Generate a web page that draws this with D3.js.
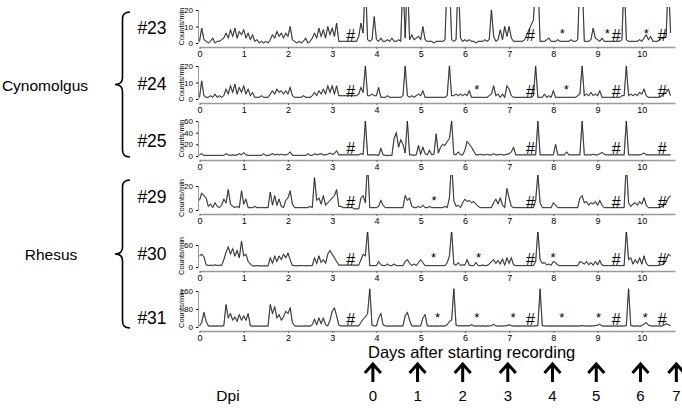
<!DOCTYPE html>
<html>
<head>
<meta charset="utf-8">
<script src="https://cdn.jsdelivr.net/npm/d3@7"></script>
<style>
  body { margin: 0; background: #fff; }
  svg { font-family: "Liberation Sans", Arial, sans-serif; }
</style>
</head>
<body>
<svg id="chart" width="682" height="410"></svg>
<script>
// activity counts, one value every 0.05 day from day 0
let step = 0.05

let m23 = [
  1, 9, 2, 1, 0, 1, 3, 0, 1, 1, 2, 3, 6, 3, 8, 4, 9, 3, 7, 5,
  8, 3, 6, 2, 5, 1, 2, 0, 1, 0, 1, 0, 2, 5, 3, 7, 4, 6, 3, 6,
  4, 10, 2, 1, 0, 1, 0, 1, 3, 0, 1, 3, 6, 3, 9, 4, 8, 3, 10, 5,
  9, 4, 12, 1, 1, 1, 1, 1, 1, 1, 1, 1, 4, 12, 6, 40, 2, 1, 2, 16,
  2, 1, 3, 1, 1, 2, 1, 3, 1, 1, 2, 1, 40, 3, 40, 2, 5, 2, 3, 4,
  2, 10, 2, 1, 1, 1, 0, 1, 1, 1, 1, 2, 40, 40, 2, 1, 2, 40, 3, 1,
  2, 1, 2, 1, 1, 0, 1, 1, 1, 2, 1, 2, 20, 4, 1, 2, 8, 2, 10, 4,
  10, 3, 1, 1, 1, 1, 1, 2, 5, 8, 11, 14, 40, 40, 1, 1, 1, 2, 3, 1,
  1, 1, 2, 1, 1, 1, 1, 1, 2, 1, 1, 2, 40, 40, 1, 1, 1, 2, 9, 3,
  2, 1, 3, 1, 1, 1, 1, 1, 1, 1, 1, 2, 40, 2, 1, 1, 1, 1, 1, 2,
  1, 3, 5, 2, 4, 1, 1, 1, 2, 3, 3, 4, 40, 6
]
let m24 = [
  1, 11, 2, 1, 1, 2, 1, 3, 1, 2, 1, 2, 6, 3, 8, 4, 9, 3, 7, 4,
  8, 3, 6, 2, 4, 1, 1, 1, 2, 1, 1, 1, 3, 5, 3, 6, 4, 5, 3, 5,
  3, 7, 2, 1, 1, 1, 1, 2, 1, 1, 1, 2, 4, 2, 5, 3, 6, 3, 8, 4,
  8, 3, 8, 2, 2, 2, 2, 2, 2, 2, 2, 2, 3, 7, 4, 20, 2, 2, 3, 2,
  2, 7, 1, 1, 1, 2, 1, 1, 1, 1, 1, 1, 2, 20, 2, 1, 2, 1, 2, 3,
  2, 5, 1, 1, 1, 1, 1, 1, 1, 1, 1, 1, 2, 20, 2, 2, 3, 2, 3, 2,
  3, 2, 5, 1, 1, 1, 1, 1, 1, 1, 1, 2, 3, 8, 2, 3, 1, 3, 1, 8,
  6, 2, 1, 1, 1, 1, 1, 1, 1, 1, 1, 2, 20, 1, 1, 1, 3, 1, 2, 1,
  5, 1, 1, 1, 1, 1, 1, 1, 1, 1, 1, 2, 3, 20, 2, 3, 2, 4, 2, 3,
  2, 5, 1, 1, 1, 1, 1, 1, 1, 1, 1, 2, 2, 20, 2, 3, 2, 3, 2, 4,
  3, 6, 2, 1, 1, 1, 1, 1, 1, 2, 3, 4, 6, 2
]
let m25 = [
  2, 4, 1, 1, 1, 1, 1, 1, 1, 1, 1, 1, 4, 2, 1, 2, 1, 2, 4, 2,
  6, 2, 1, 1, 1, 1, 1, 1, 1, 4, 1, 1, 2, 4, 2, 3, 2, 3, 2, 2,
  3, 7, 1, 1, 1, 1, 1, 1, 1, 4, 1, 1, 4, 2, 3, 4, 2, 2, 3, 5,
  3, 4, 9, 2, 2, 2, 2, 2, 2, 2, 2, 2, 2, 4, 3, 60, 2, 2, 2, 2,
  2, 1, 13, 2, 1, 1, 1, 1, 30, 40, 15, 28, 20, 5, 60, 2, 2, 1, 2, 18,
  3, 15, 4, 2, 10, 2, 3, 38, 5, 15, 20, 18, 25, 30, 60, 3, 2, 7, 2, 2,
  10, 25, 20, 15, 8, 2, 2, 3, 2, 2, 3, 2, 2, 4, 2, 2, 3, 2, 2, 3,
  4, 7, 15, 2, 2, 2, 2, 2, 2, 2, 2, 2, 2, 60, 2, 2, 2, 2, 2, 2,
  2, 20, 2, 2, 2, 2, 7, 2, 2, 2, 2, 2, 2, 60, 2, 2, 2, 2, 3, 2,
  2, 4, 6, 3, 2, 2, 2, 2, 2, 2, 2, 2, 2, 60, 2, 2, 2, 2, 2, 2,
  3, 5, 2, 2, 2, 2, 2, 2, 2, 2, 2, 2, 2, 2
]
let m29 = [
  8, 14, 12, 10, 3, 5, 2, 6, 3, 2, 4, 9, 6, 17, 5, 3, 2, 3, 2, 16,
  5, 9, 2, 2, 2, 3, 2, 2, 2, 2, 2, 2, 15, 4, 12, 4, 9, 3, 2, 8,
  10, 16, 5, 2, 2, 2, 2, 2, 2, 2, 3, 2, 27, 8, 10, 5, 12, 4, 6, 8,
  10, 12, 17, 3, 3, 2, 2, 2, 2, 2, 1, 1, 1, 10, 12, 6, 40, 2, 2, 2,
  2, 3, 8, 4, 2, 2, 2, 2, 2, 2, 2, 2, 2, 12, 8, 10, 3, 2, 2, 3,
  2, 4, 2, 2, 3, 2, 2, 2, 2, 2, 2, 3, 2, 10, 40, 8, 3, 4, 2, 6,
  9, 7, 8, 6, 7, 5, 3, 2, 2, 2, 2, 2, 2, 6, 9, 5, 10, 4, 2, 18,
  10, 3, 2, 2, 2, 2, 2, 2, 2, 2, 2, 2, 8, 30, 6, 2, 2, 2, 2, 2,
  6, 4, 2, 2, 2, 2, 2, 2, 2, 2, 2, 2, 10, 12, 6, 7, 4, 6, 5, 7,
  4, 8, 4, 2, 2, 2, 2, 2, 2, 2, 2, 2, 2, 40, 6, 3, 5, 6, 4, 7,
  5, 10, 4, 2, 2, 2, 2, 2, 2, 3, 4, 6, 10, 12
]
let m30 = [
  30, 35, 28, 6, 4, 5, 4, 6, 4, 5, 4, 20, 40, 55, 35, 50, 30, 45, 25, 70,
  30, 35, 15, 8, 3, 3, 4, 3, 3, 3, 3, 3, 25, 10, 30, 15, 30, 20, 35, 25,
  38, 20, 4, 4, 3, 4, 4, 4, 3, 4, 4, 4, 25, 10, 30, 12, 20, 10, 35, 45,
  35, 25, 15, 5, 5, 5, 5, 5, 5, 5, 5, 5, 5, 20, 35, 30, 100, 4, 4, 4,
  4, 15, 6, 4, 4, 8, 4, 4, 8, 4, 4, 4, 4, 15, 20, 10, 4, 8, 4, 12,
  20, 12, 4, 4, 4, 4, 4, 4, 4, 4, 4, 4, 12, 30, 100, 8, 5, 12, 4, 6,
  5, 20, 5, 4, 4, 12, 4, 4, 5, 4, 4, 8, 15, 20, 10, 18, 8, 22, 5, 25,
  10, 25, 6, 4, 4, 4, 4, 4, 4, 4, 4, 4, 15, 100, 20, 10, 12, 6, 8, 5,
  15, 12, 5, 4, 4, 4, 4, 4, 4, 4, 4, 4, 15, 12, 8, 15, 6, 12, 5, 15,
  6, 18, 5, 4, 4, 4, 4, 4, 4, 4, 4, 4, 4, 100, 20, 25, 8, 20, 10, 25,
  8, 30, 10, 4, 4, 4, 4, 4, 5, 6, 8, 20, 35, 30
]
let m31 = [
  5, 20, 65, 25, 5, 4, 5, 4, 5, 4, 5, 6, 100, 40, 60, 30, 45, 25, 55, 30,
  50, 30, 60, 5, 4, 4, 4, 4, 4, 4, 4, 4, 100, 60, 90, 40, 55, 30, 45, 70,
  60, 85, 20, 5, 4, 4, 4, 4, 5, 4, 4, 10, 35, 10, 40, 15, 40, 10, 5, 30,
  70, 85, 50, 8, 5, 5, 5, 5, 5, 5, 5, 5, 5, 20, 35, 45, 60, 170, 8, 5,
  5, 40, 60, 10, 5, 4, 5, 4, 5, 4, 5, 4, 5, 50, 65, 30, 5, 4, 5, 4,
  5, 40, 55, 5, 4, 5, 4, 5, 4, 5, 4, 5, 10, 25, 30, 170, 8, 5, 6, 5,
  5, 6, 5, 10, 5, 4, 5, 4, 5, 4, 5, 5, 6, 12, 5, 4, 5, 4, 5, 6,
  10, 6, 4, 5, 4, 5, 4, 5, 4, 5, 4, 5, 5, 6, 170, 6, 5, 4, 5, 4,
  5, 4, 5, 4, 5, 4, 5, 4, 5, 4, 5, 4, 5, 6, 5, 4, 5, 4, 5, 6,
  8, 12, 5, 4, 5, 4, 5, 4, 5, 4, 5, 4, 5, 6, 170, 6, 5, 4, 5, 4,
  6, 12, 20, 8, 5, 4, 5, 4, 5, 4, 8, 15, 10, 6
]

let animals = ['#23', '#24', '#25', '#29', '#30', '#31']
let series = [m23, m24, m25, m29, m30, m31]
let yTicks = [[0, 10, 20], [0, 10, 20], [0, 20, 40, 60], [0, 20], [0, 60], [0, 80, 160]]
let yMax = [20, 20, 60, 20, 60, 160]
let hashDays = [3.42, 7.48, 9.42, 10.46]
let starDays = [[8.2, 9.22, 10.1], [6.27, 8.29], [], [5.3], [5.29, 6.31, 7.99], [5.38, 6.27, 7.09, 8.19, 9.02, 10.08]]
let dayTicks = [0, 1, 2, 3, 4, 5, 6, 7, 8, 9, 10]
let dpiLabels = [0, 1, 2, 3, 4, 5, 6, 7]
let dpiDays = [3.92, 4.93, 5.95, 6.97, 7.98, 8.97, 9.97, 10.78]

// layout (pixels)
let zeroY = [43, 99, 156, 210, 267, 327]
let topTickY = [10, 66, 121, 186, 245, 291]
let clipTop = [7, 63, 118, 175, 232, 287]
let axisY = [47, 103, 160, 214, 271, 331]
let labelY = [34, 90, 147, 203, 260, 324]

let svg = d3.select('#chart')

let x = d3.scaleLinear().domain([0, 10.75]).range([199.5, 675])

let panel = svg.selectAll('g.panel')
  .data(animals)
  .enter()
  .append('g')
  .attr('class', 'panel')

panel.each(function (name, i) {
  let g = d3.select(this)
  let y = d3.scaleLinear().domain([0, yMax[i]]).range([zeroY[i], topTickY[i]])

  g.append('clipPath')
    .attr('id', 'clip' + i)
    .append('rect')
    .attr('x', 198).attr('y', clipTop[i])
    .attr('width', 480).attr('height', axisY[i] - clipTop[i])

  let line = d3.line()
    .x((d, j) => x(j * step))
    .y(d => y(d))

  let plot = g.append('g').attr('clip-path', `url(#clip${i})`)
  plot.append('path')
    .datum(series[i])
    .attr('d', line)
    .attr('fill', 'none')
    .attr('stroke', '#999')
    .attr('stroke-width', 1.2)
  plot.append('path')
    .datum(series[i])
    .attr('d', line)
    .attr('fill', 'none')
    .attr('stroke', '#111')
    .attr('stroke-width', 0.7)

  // x axis
  let xa = g.append('g')
    .attr('transform', `translate(0, ${axisY[i]})`)
    .call(d3.axisBottom(x).tickValues(dayTicks).tickSize(2).tickSizeOuter(0).tickFormat(d3.format('d')))
  xa.select('.domain').attr('stroke', '#999').attr('stroke-width', 1.5)
  xa.selectAll('.tick line').attr('stroke', '#666')
  xa.selectAll('text').attr('font-size', 9).attr('dy', '0.6em').attr('fill', '#000')

  // y axis
  let ya = g.append('g')
    .attr('transform', 'translate(198, 0)')
    .call(d3.axisLeft(y).tickValues(yTicks[i]).tickSize(2).tickSizeOuter(0))
  ya.select('.domain').attr('stroke', '#999')
  ya.selectAll('text').attr('font-size', 8).attr('fill', '#000')

  g.append('text')
    .attr('transform', `translate(184, ${(zeroY[i] + topTickY[i]) / 2}) rotate(-90)`)
    .attr('text-anchor', 'middle')
    .attr('font-size', 7.5)
    .text('Counts/min')

  g.append('text')
    .attr('x', 152).attr('y', labelY[i])
    .attr('text-anchor', 'middle')
    .attr('font-size', 17.5)
    .text(name)

  g.selectAll('text.hash')
    .data(hashDays)
    .enter()
    .append('text')
    .attr('class', 'hash')
    .attr('x', d => x(d))
    .attr('y', zeroY[i] - 2)
    .attr('text-anchor', 'middle')
    .attr('font-size', 16)
    .text('#')

  g.selectAll('text.star')
    .data(starDays[i])
    .enter()
    .append('text')
    .attr('class', 'star')
    .attr('x', d => x(d))
    .attr('y', zeroY[i] - 5)
    .attr('text-anchor', 'middle')
    .attr('font-size', 13)
    .text('*')
})

// species braces
let brace = (bx, y1, y2) => {
  let ym = (y1 + y2) / 2
  let w = 15, r = 7
  return `M${bx + w},${y1} Q${bx + w / 2},${y1} ${bx + w / 2},${y1 + r}
    L${bx + w / 2},${ym - r} Q${bx + w / 2},${ym} ${bx},${ym}
    Q${bx + w / 2},${ym} ${bx + w / 2},${ym + r}
    L${bx + w / 2},${y2 - r} Q${bx + w / 2},${y2} ${bx + w},${y2}`
}
let species = ['Cynomolgus', 'Rhesus']
let braceSpan = [[12, 157], [180, 328]]
let speciesX = [45, 51]
svg.selectAll('path.brace')
  .data(species)
  .enter()
  .append('path')
  .attr('class', 'brace')
  .attr('d', (d, i) => brace(115, braceSpan[i][0], braceSpan[i][1]))
  .attr('fill', 'none')
  .attr('stroke', '#000')
  .attr('stroke-width', 1.6)
svg.selectAll('text.species')
  .data(species)
  .enter()
  .append('text')
  .attr('class', 'species')
  .attr('x', (d, i) => speciesX[i])
  .attr('y', (d, i) => (braceSpan[i][0] + braceSpan[i][1]) / 2 + 6)
  .attr('text-anchor', 'middle')
  .attr('font-size', 15.5)
  .text(d => d)

svg.append('text')
  .attr('x', 368).attr('y', 358)
  .attr('font-size', 16.5)
  .text('Days after starting recording')

let arrows = svg.selectAll('g.dpi')
  .data(dpiLabels)
  .enter()
  .append('g')
  .attr('class', 'dpi')
  .attr('transform', (d, i) => `translate(${x(dpiDays[i])}, 0)`)
arrows.append('path')
  .attr('d', 'M0,382 L0,364 M-8,373 L0,364 L8,373')
  .attr('fill', 'none')
  .attr('stroke', '#000')
  .attr('stroke-width', 3)
arrows.append('text')
  .attr('y', 401)
  .attr('text-anchor', 'middle')
  .attr('font-size', 15)
  .text(d => d)

svg.append('text')
  .attr('x', 228).attr('y', 401)
  .attr('text-anchor', 'middle')
  .attr('font-size', 15.5)
  .text('Dpi')
</script>
</body>
</html>
